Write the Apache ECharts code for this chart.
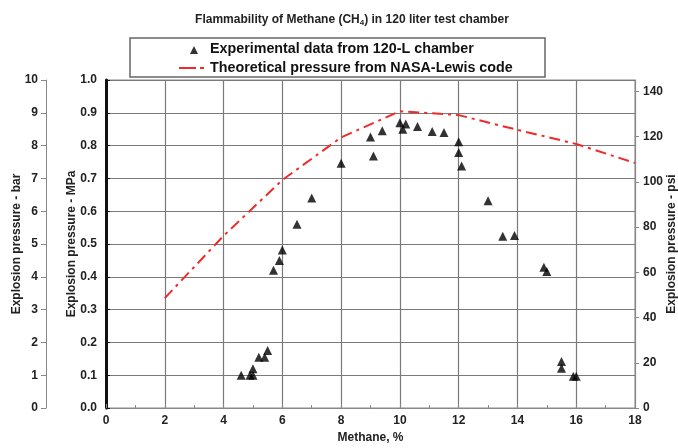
<!DOCTYPE html>
<html><head><meta charset="utf-8">
<script src="https://cdn.jsdelivr.net/npm/echarts@6/dist/echarts.min.js"></script>
<style>html,body{margin:0;padding:0;background:#fff}#c{width:678px;height:448px}</style>
</head><body><div id="c"></div>
<script>
const expX = [4.6, 4.9, 5.0, 5.0, 5.2, 5.4, 5.5, 5.7, 5.9, 6.0, 6.5, 7.0, 8.0, 9.0, 9.1, 9.4, 10.0, 10.1, 10.2, 10.6, 11.1, 11.5, 12.0, 12.0, 12.1, 13.0, 13.5, 13.9, 14.9, 15.0, 15.5, 15.5, 15.9, 16.0];
const expY = [0.10, 0.10, 0.10, 0.12, 0.155, 0.155, 0.175, 0.42, 0.45, 0.482, 0.56, 0.64, 0.746, 0.826, 0.768, 0.845, 0.87, 0.85, 0.866, 0.858, 0.843, 0.84, 0.812, 0.779, 0.738, 0.632, 0.524, 0.526, 0.429, 0.416, 0.142, 0.121, 0.097, 0.097];
const theoX = [2, 4, 6, 8, 10, 12, 14, 16, 18];
const theoY = [0.335, 0.525, 0.695, 0.825, 0.905, 0.893, 0.848, 0.805, 0.747];
const xTicks = [0, 2, 4, 6, 8, 10, 12, 14, 16, 18];

const F = '"Liberation Sans", Arial, sans-serif';
const lbl = {fontFamily: F, fontWeight: 'bold', fontSize: 12, color: '#222'};
const RED = '#ee2a2a';
const triIcon = 'path://M0,0L0.01,0L0,0.01Z M26,10L25.99,10L26,9.99Z M11,10L15,2L19,10Z';
const lineIcon = 'path://M0,0L0.01,0L0,0.01Z M26,10L25.99,10L26,9.99Z M0,4L17,4L17,6L0,6Z M21,4L25,4L25,6L21,6Z';
const chart = echarts.init(document.getElementById('c'));
chart.setOption({
  animation: false,
  title: {
    text: 'Flammability of Methane (CH{s|4}) in 120 liter test chamber',
    left: 347, top: 8, textAlign: 'center',
    textStyle: {fontFamily: F, fontWeight: 'bold', fontSize: 12, color: '#222',
      rich: {s: {fontFamily: F, fontWeight: 'bold', fontSize: 8, color: '#222', verticalAlign: 'bottom', padding: [6,0,0,0]}}}
  },
  graphic: [{type: 'rect', shape: {x: 130, y: 38, width: 415, height: 39},
    style: {fill: 'none', stroke: '#666', lineWidth: 1.5}}],
  legend: {
    orient: 'vertical', left: 174, top: 37, itemWidth: 26, itemHeight: 10, itemGap: 5,
    textStyle: {fontFamily: F, fontWeight: 'bold', fontSize: 14.3, color: '#111'},
    data: [
      {name: 'Experimental data from 120-L chamber', icon: triIcon, itemStyle: {color: '#000'}},
      {name: 'Theoretical pressure from NASA-Lewis code', icon: lineIcon, itemStyle: {color: RED}}
    ]
  },
  grid: {left: 106, top: 80, width: 529, height: 328, show: true, borderColor: '#888', borderWidth: 1, outerBoundsMode: 'none', containLabel: false},
  xAxis: {
    type: 'value', min: 0, max: 18, interval: 2,
    name: 'Methane, %', nameLocation: 'middle', nameGap: 24, nameMoveOverlap: false,
    nameTextStyle: lbl,
    axisLine: {show: true, lineStyle: {color: '#888', width: 1}},
    axisTick: {show: true, inside: true, length: 4, lineStyle: {color: '#888'}},
    minorTick: {show: true, splitNumber: 2, length: 3, lineStyle: {color: '#888'}},
    axisLabel: Object.assign({margin: 7}, lbl),
    splitLine: {show: true, lineStyle: {color: '#7a7a7a', width: 1.2}}
  },
  yAxis: [
    {
      type: 'value', min: 0, max: 1, interval: 0.1, position: 'left',
      name: 'Explosion pressure - MPa', nameLocation: 'middle', nameGap: 28, nameMoveOverlap: false, nameTextStyle: lbl,
      axisLine: {show: true, lineStyle: {color: '#111', width: 3}},
      axisTick: {show: true, inside: true, length: 4, lineStyle: {color: '#111'}},
      axisLabel: Object.assign({margin: 9, formatter: v => v.toFixed(1)}, lbl),
      splitLine: {show: true, lineStyle: {color: '#7a7a7a', width: 1.2}}
    },
    {
      type: 'value', min: 0, max: 10, interval: 1, position: 'left', offset: 60,
      name: 'Explosion pressure - bar', nameLocation: 'middle', nameGap: 23, nameMoveOverlap: false, nameTextStyle: lbl,
      axisLine: {show: true, lineStyle: {color: '#888', width: 1}},
      axisTick: {show: true, length: 5, lineStyle: {color: '#888'}},
      axisLabel: Object.assign({margin: 8}, lbl),
      splitLine: {show: false}
    },
    {
      type: 'value', min: 0, max: 145.038, interval: 20, position: 'right',
      name: 'Explosion pressure - psi', nameLocation: 'middle', nameGap: 31, nameMoveOverlap: false, nameTextStyle: lbl,
      axisLine: {show: true, lineStyle: {color: '#888', width: 1}},
      axisTick: {show: true, length: 4, lineStyle: {color: '#888'}},
      axisLabel: Object.assign({margin: 8, showMaxLabel: false}, lbl),
      splitLine: {show: false}
    }
  ],
  series: [
    {
      name: 'Experimental data from 120-L chamber', type: 'scatter', yAxisIndex: 0,
      symbol: 'triangle', symbolSize: 9, itemStyle: {color: '#000'},
      data: expX.map((x, i) => [x, expY[i]])
    },
    {
      name: 'Theoretical pressure from NASA-Lewis code', type: 'line', yAxisIndex: 0,
      showSymbol: false, symbol: 'none', itemStyle: {color: RED},
      lineStyle: {color: RED, width: 2, type: [11, 5, 3, 5]},
      data: theoX.map((x, i) => [x, theoY[i]])
    }
  ]
});
</script></body></html>
